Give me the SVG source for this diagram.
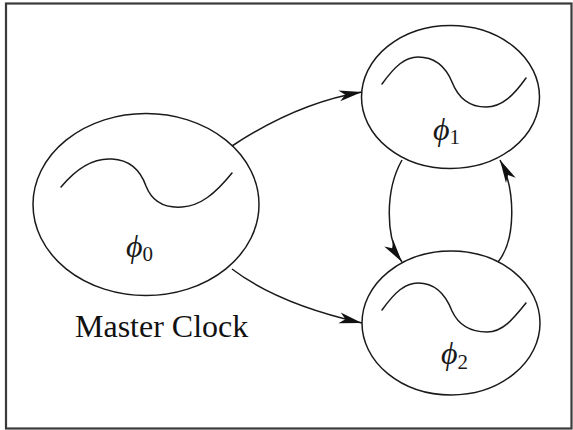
<svg xmlns="http://www.w3.org/2000/svg" width="573" height="430" viewBox="0 0 573 430">
  <style>
    .frame { fill: #ffffff; stroke: #3a3a3a; stroke-width: 2.2; }
    .node { fill: #ffffff; stroke: #1a1a1a; stroke-width: 1.5; }
    .wave { fill: none; stroke: #1a1a1a; stroke-width: 1.5; stroke-linecap: round; }
    .edge { fill: none; stroke: #1a1a1a; stroke-width: 1.5; marker-end: url(#head); }
    .sym { font-family: "Liberation Serif", "DejaVu Serif", serif; font-size: 32px; font-style: italic; fill: #1a1a1a; }
    .sub { font-style: normal; font-size: 21px; }
    .caption { font-family: "Liberation Serif", "DejaVu Serif", serif; font-size: 32px; fill: #111111; }
  </style>
  <defs>
    <marker id="head" markerUnits="userSpaceOnUse" orient="auto" markerWidth="30" markerHeight="16" viewBox="-26 -8 30 16" refX="0" refY="0" overflow="visible">
      <path d="M0,0 L-23,-5.5 L-17,0 L-23,5.5 Z" fill="#111111"/>
    </marker>
  </defs>

  <rect class="frame" x="6" y="3.5" width="565.5" height="425"/>

  <!-- connectors -->
  <g id="edges">
    <path class="edge" d="M232,146 Q297,103 362,92"/>
    <path class="edge" d="M232,269 Q278,304 362,323"/>
    <path class="edge" d="M402,160 C385,190 385,238 402,262"/>
    <path class="edge" d="M498,262 C516,240 516,190 500,160"/>
  </g>

  <!-- master clock -->
  <g id="phi0">
    <ellipse class="node" cx="146" cy="204.5" rx="113" ry="91"/>
    <path class="wave" d="M61,187 C80,164 98,158 112,159 C132,160 141,172 146,186 C153,204 168,208 182,207 C200,206 215,194 232,173"/>
    <text class="sym" x="126" y="257">ϕ<tspan class="sub" dy="4">0</tspan></text>
  </g>

  <g id="phi1">
    <ellipse class="node" cx="450.5" cy="97" rx="89" ry="71.5"/>
    <path class="wave" d="M382,84 C395,66 405,57 418,57 C438,57 447,70 452,82 C459,100 472,107 486,107 C502,107 514,95 526,78"/>
    <text class="sym" x="433" y="139.5">ϕ<tspan class="sub" dy="4.5">1</tspan></text>
  </g>

  <g id="phi2">
    <ellipse class="node" cx="451" cy="323" rx="89" ry="72"/>
    <path class="wave" d="M382,310 C395,292 405,283 418,283 C438,283 447,298 452,311 C459,326 472,332 487,332 C503,332 514,318 526,303"/>
    <text class="sym" x="441" y="363.5">ϕ<tspan class="sub" dy="5">2</tspan></text>
  </g>

  <text id="caption" class="caption" x="75" y="337">Master Clock</text>
</svg>
